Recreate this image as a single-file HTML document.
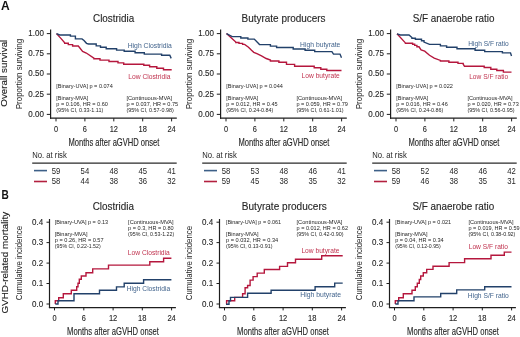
<!DOCTYPE html>
<html><head><meta charset="utf-8"><style>
html,body{margin:0;padding:0;background:#fff;overflow:hidden;}
svg{display:block;will-change:transform;}
text{font-family:"Liberation Sans", sans-serif;}
</style></head><body>
<svg width="520" height="337" viewBox="0 0 520 337">
<rect width="520" height="337" fill="#fff"/>
<text x="1.0" y="9.8" font-size="12.2" fill="#111" text-anchor="start" font-weight="bold" textLength="8.7" lengthAdjust="spacingAndGlyphs">A</text>
<text x="1.5" y="198.8" font-size="12.2" fill="#111" text-anchor="start" font-weight="bold" textLength="7.3" lengthAdjust="spacingAndGlyphs">B</text>
<text transform="translate(7.4,73.2) rotate(-90)" x="0" y="0" font-size="9.8" fill="#222" text-anchor="middle" stroke="#222" stroke-width="0.12" textLength="67.0" lengthAdjust="spacingAndGlyphs">Overall survival</text>
<text transform="translate(22.2,74.0) rotate(-90)" x="0" y="0" font-size="9.4" fill="#262626" text-anchor="middle" textLength="70.5" lengthAdjust="spacingAndGlyphs">Proportion surviving</text>
<text transform="translate(7.6,262.7) rotate(-90)" x="0" y="0" font-size="9.8" fill="#222" text-anchor="middle" stroke="#222" stroke-width="0.12" textLength="101.7" lengthAdjust="spacingAndGlyphs">GVHD-related mortality</text>
<text transform="translate(22.3,263.1) rotate(-90)" x="0" y="0" font-size="9.0" fill="#262626" text-anchor="middle" textLength="74.2" lengthAdjust="spacingAndGlyphs">Cumulative incidence</text>
<text x="113.6" y="21.5" font-size="10.6" fill="#262626" text-anchor="middle" textLength="41.2" lengthAdjust="spacingAndGlyphs" stroke="#262626" stroke-width="0.12">Clostridia</text>
<line x1="50.6" y1="29.4" x2="50.6" y2="118.7" stroke="#1e1e1e" stroke-width="1.2"/>
<line x1="50.0" y1="118.2" x2="176.8" y2="118.2" stroke="#1e1e1e" stroke-width="1.2"/>
<line x1="46.8" y1="33.6" x2="50.6" y2="33.6" stroke="#1e1e1e" stroke-width="1.0"/>
<text x="43.9" y="35.9" font-size="8.6" fill="#262626" text-anchor="end" textLength="15.6" lengthAdjust="spacingAndGlyphs" stroke="#262626" stroke-width="0.12">1.00</text>
<line x1="46.8" y1="53.8" x2="50.6" y2="53.8" stroke="#1e1e1e" stroke-width="1.0"/>
<text x="43.9" y="56.1" font-size="8.6" fill="#262626" text-anchor="end" textLength="15.6" lengthAdjust="spacingAndGlyphs" stroke="#262626" stroke-width="0.12">0.75</text>
<line x1="46.8" y1="74.0" x2="50.6" y2="74.0" stroke="#1e1e1e" stroke-width="1.0"/>
<text x="43.9" y="76.3" font-size="8.6" fill="#262626" text-anchor="end" textLength="15.6" lengthAdjust="spacingAndGlyphs" stroke="#262626" stroke-width="0.12">0.50</text>
<line x1="46.8" y1="94.2" x2="50.6" y2="94.2" stroke="#1e1e1e" stroke-width="1.0"/>
<text x="43.9" y="96.5" font-size="8.6" fill="#262626" text-anchor="end" textLength="15.6" lengthAdjust="spacingAndGlyphs" stroke="#262626" stroke-width="0.12">0.25</text>
<line x1="46.8" y1="114.4" x2="50.6" y2="114.4" stroke="#1e1e1e" stroke-width="1.0"/>
<text x="43.9" y="116.7" font-size="8.6" fill="#262626" text-anchor="end" textLength="15.6" lengthAdjust="spacingAndGlyphs" stroke="#262626" stroke-width="0.12">0.00</text>
<line x1="56.0" y1="118.2" x2="56.0" y2="121.4" stroke="#1e1e1e" stroke-width="1.0"/>
<text x="56.0" y="131.7" font-size="9.0" fill="#262626" text-anchor="middle" textLength="4.1" lengthAdjust="spacingAndGlyphs" stroke="#262626" stroke-width="0.12">0</text>
<line x1="84.9" y1="118.2" x2="84.9" y2="121.4" stroke="#1e1e1e" stroke-width="1.0"/>
<text x="84.9" y="131.7" font-size="9.0" fill="#262626" text-anchor="middle" textLength="4.1" lengthAdjust="spacingAndGlyphs" stroke="#262626" stroke-width="0.12">6</text>
<line x1="113.8" y1="118.2" x2="113.8" y2="121.4" stroke="#1e1e1e" stroke-width="1.0"/>
<text x="113.8" y="131.7" font-size="9.0" fill="#262626" text-anchor="middle" textLength="8.3" lengthAdjust="spacingAndGlyphs" stroke="#262626" stroke-width="0.12">12</text>
<line x1="142.7" y1="118.2" x2="142.7" y2="121.4" stroke="#1e1e1e" stroke-width="1.0"/>
<text x="142.7" y="131.7" font-size="9.0" fill="#262626" text-anchor="middle" textLength="8.3" lengthAdjust="spacingAndGlyphs" stroke="#262626" stroke-width="0.12">18</text>
<line x1="171.6" y1="118.2" x2="171.6" y2="121.4" stroke="#1e1e1e" stroke-width="1.0"/>
<text x="171.6" y="131.7" font-size="9.0" fill="#262626" text-anchor="middle" textLength="8.3" lengthAdjust="spacingAndGlyphs" stroke="#262626" stroke-width="0.12">24</text>
<text x="68.4" y="145.5" font-size="10.2" fill="#262626" text-anchor="start" textLength="91.0" lengthAdjust="spacingAndGlyphs" stroke="#262626" stroke-width="0.12">Months after aGVHD onset</text>
<path d="M56.5,33.6 L61.1,38.6 L64.7,42.8 V43.2 H68.3 V44.6 H72.6 V46 H78.3 L82.6,51.4 L86.3,53 L93.9,58.2 V58.7 H100 V60.1 H109 V61.5 H118 V62.9 H123.7 V64.2 H143.8 V65.3 H149.6 V66.8 H156.8 V68.2 H163.5 V69.7 H171.7" fill="none" stroke="#b5173d" stroke-width="1.4" stroke-linejoin="miter" stroke-linecap="butt"/>
<path d="M56.5,33.6 L59.7,35 H70.4 V36.1 H75.4 V38.9 H82 L84,40.5 L86.5,43.3 L88.5,44 H96.2 V45.9 H100.5 V47.3 H106.2 V48.7 H116.6 V50.1 H124.2 V51.3 H135.1 V52.7 H144.3 V54.1 H161.6 V55.3 H169.8 L171.2,58.4" fill="none" stroke="#22416a" stroke-width="1.4" stroke-linejoin="miter" stroke-linecap="butt"/>
<text x="127.7" y="47.6" font-size="7.0" fill="#41638c" text-anchor="start" textLength="44.2" lengthAdjust="spacingAndGlyphs">High Clostridia</text>
<text x="128.2" y="79.2" font-size="7.0" fill="#c0334f" text-anchor="start" textLength="42.2" lengthAdjust="spacingAndGlyphs">Low Clostridia</text>
<text x="56.3" y="88.1" font-size="5.9" fill="#262626" text-anchor="start" textLength="56.5" lengthAdjust="spacingAndGlyphs">[Binary-UVA] p = 0.074</text>
<text x="56.3" y="99.6" font-size="5.9" fill="#262626" text-anchor="start" textLength="32.0" lengthAdjust="spacingAndGlyphs">[Binary-MVA]</text>
<text x="56.3" y="106.0" font-size="5.9" fill="#262626" text-anchor="start" textLength="51.6" lengthAdjust="spacingAndGlyphs">p = 0.106, HR = 0.60</text>
<text x="56.3" y="112.3" font-size="5.9" fill="#262626" text-anchor="start" textLength="47.0" lengthAdjust="spacingAndGlyphs">(95% CI, 0.33-1.11)</text>
<text x="126.4" y="99.6" font-size="5.9" fill="#262626" text-anchor="start" textLength="45.8" lengthAdjust="spacingAndGlyphs">[Continuous-MVA]</text>
<text x="126.4" y="106.0" font-size="5.9" fill="#262626" text-anchor="start" textLength="51.8" lengthAdjust="spacingAndGlyphs">p = 0.037, HR = 0.75</text>
<text x="126.4" y="112.3" font-size="5.9" fill="#262626" text-anchor="start" textLength="47.4" lengthAdjust="spacingAndGlyphs">(95% CI, 0.57-0.98)</text>
<text x="32.2" y="157.8" font-size="8.4" fill="#262626" text-anchor="start" textLength="34.6" lengthAdjust="spacingAndGlyphs">No. at risk</text>
<line x1="32.2" y1="163.1" x2="176.7" y2="163.1" stroke="#2a2a2a" stroke-width="1.2"/>
<line x1="34.0" y1="170.6" x2="47.0" y2="170.6" stroke="#3d6088" stroke-width="1.6"/>
<line x1="34.0" y1="181.5" x2="47.0" y2="181.5" stroke="#b3203f" stroke-width="1.6"/>
<text x="56.0" y="173.6" font-size="9.2" fill="#262626" text-anchor="middle" textLength="8.6" lengthAdjust="spacingAndGlyphs">59</text>
<text x="56.0" y="184.2" font-size="9.2" fill="#262626" text-anchor="middle" textLength="8.6" lengthAdjust="spacingAndGlyphs">58</text>
<text x="84.9" y="173.6" font-size="9.2" fill="#262626" text-anchor="middle" textLength="8.6" lengthAdjust="spacingAndGlyphs">54</text>
<text x="84.9" y="184.2" font-size="9.2" fill="#262626" text-anchor="middle" textLength="8.6" lengthAdjust="spacingAndGlyphs">44</text>
<text x="113.8" y="173.6" font-size="9.2" fill="#262626" text-anchor="middle" textLength="8.6" lengthAdjust="spacingAndGlyphs">48</text>
<text x="113.8" y="184.2" font-size="9.2" fill="#262626" text-anchor="middle" textLength="8.6" lengthAdjust="spacingAndGlyphs">38</text>
<text x="142.7" y="173.6" font-size="9.2" fill="#262626" text-anchor="middle" textLength="8.6" lengthAdjust="spacingAndGlyphs">45</text>
<text x="142.7" y="184.2" font-size="9.2" fill="#262626" text-anchor="middle" textLength="8.6" lengthAdjust="spacingAndGlyphs">36</text>
<text x="171.6" y="173.6" font-size="9.2" fill="#262626" text-anchor="middle" textLength="8.6" lengthAdjust="spacingAndGlyphs">41</text>
<text x="171.6" y="184.2" font-size="9.2" fill="#262626" text-anchor="middle" textLength="8.6" lengthAdjust="spacingAndGlyphs">32</text>
<text x="113.3" y="210.2" font-size="10.6" fill="#262626" text-anchor="middle" textLength="41.2" lengthAdjust="spacingAndGlyphs" stroke="#262626" stroke-width="0.12">Clostridia</text>
<line x1="49.5" y1="219.0" x2="49.5" y2="308.1" stroke="#1e1e1e" stroke-width="1.2"/>
<line x1="48.9" y1="307.6" x2="175.9" y2="307.6" stroke="#1e1e1e" stroke-width="1.2"/>
<line x1="46.5" y1="222.2" x2="49.5" y2="222.2" stroke="#1e1e1e" stroke-width="1.0"/>
<text x="43.2" y="225.0" font-size="8.8" fill="#262626" text-anchor="end" textLength="11.1" lengthAdjust="spacingAndGlyphs" stroke="#262626" stroke-width="0.12">0.4</text>
<line x1="46.5" y1="242.6" x2="49.5" y2="242.6" stroke="#1e1e1e" stroke-width="1.0"/>
<text x="43.2" y="245.4" font-size="8.8" fill="#262626" text-anchor="end" textLength="11.1" lengthAdjust="spacingAndGlyphs" stroke="#262626" stroke-width="0.12">0.3</text>
<line x1="46.5" y1="263.1" x2="49.5" y2="263.1" stroke="#1e1e1e" stroke-width="1.0"/>
<text x="43.2" y="265.9" font-size="8.8" fill="#262626" text-anchor="end" textLength="11.1" lengthAdjust="spacingAndGlyphs" stroke="#262626" stroke-width="0.12">0.2</text>
<line x1="46.5" y1="283.5" x2="49.5" y2="283.5" stroke="#1e1e1e" stroke-width="1.0"/>
<text x="43.2" y="286.3" font-size="8.8" fill="#262626" text-anchor="end" textLength="11.1" lengthAdjust="spacingAndGlyphs" stroke="#262626" stroke-width="0.12">0.1</text>
<line x1="46.5" y1="304.0" x2="49.5" y2="304.0" stroke="#1e1e1e" stroke-width="1.0"/>
<text x="43.2" y="306.8" font-size="8.8" fill="#262626" text-anchor="end" textLength="11.1" lengthAdjust="spacingAndGlyphs" stroke="#262626" stroke-width="0.12">0.0</text>
<line x1="54.5" y1="307.6" x2="54.5" y2="310.4" stroke="#1e1e1e" stroke-width="1.0"/>
<text x="54.5" y="320.9" font-size="9.0" fill="#262626" text-anchor="middle" textLength="4.1" lengthAdjust="spacingAndGlyphs" stroke="#262626" stroke-width="0.12">0</text>
<line x1="83.8" y1="307.6" x2="83.8" y2="310.4" stroke="#1e1e1e" stroke-width="1.0"/>
<text x="83.8" y="320.9" font-size="9.0" fill="#262626" text-anchor="middle" textLength="4.1" lengthAdjust="spacingAndGlyphs" stroke="#262626" stroke-width="0.12">6</text>
<line x1="113.1" y1="307.6" x2="113.1" y2="310.4" stroke="#1e1e1e" stroke-width="1.0"/>
<text x="113.1" y="320.9" font-size="9.0" fill="#262626" text-anchor="middle" textLength="8.4" lengthAdjust="spacingAndGlyphs" stroke="#262626" stroke-width="0.12">12</text>
<line x1="142.3" y1="307.6" x2="142.3" y2="310.4" stroke="#1e1e1e" stroke-width="1.0"/>
<text x="142.3" y="320.9" font-size="9.0" fill="#262626" text-anchor="middle" textLength="8.4" lengthAdjust="spacingAndGlyphs" stroke="#262626" stroke-width="0.12">18</text>
<line x1="171.6" y1="307.6" x2="171.6" y2="310.4" stroke="#1e1e1e" stroke-width="1.0"/>
<text x="171.6" y="320.9" font-size="9.0" fill="#262626" text-anchor="middle" textLength="8.4" lengthAdjust="spacingAndGlyphs" stroke="#262626" stroke-width="0.12">24</text>
<text x="67.0" y="334.6" font-size="10.2" fill="#262626" text-anchor="start" textLength="91.9" lengthAdjust="spacingAndGlyphs" stroke="#262626" stroke-width="0.12">Months after aGVHD onset</text>
<path d="M55.3,304 V300.7 H58.7 V297.7 H63.3 V293.7 H71.3 V290.3 H76.7 V286.7 H78 V283.3 H79.3 V279.3 H81.3 V276 H86 V272.8 H92.7 V268.9 H108.5 V265.1 H149.8 V261.7 H163.6 V258.2 H171.4" fill="none" stroke="#b5173d" stroke-width="1.4" stroke-linejoin="miter" stroke-linecap="butt"/>
<path d="M55.3,304 H58 V300.7 H74 V293.7 H99.5 V290.3 H116.5 V286.9 H124.2 V283.3 H143.6 V279.8 H171.4" fill="none" stroke="#22416a" stroke-width="1.4" stroke-linejoin="miter" stroke-linecap="butt"/>
<text x="127.8" y="255.0" font-size="7.0" fill="#c0334f" text-anchor="start" textLength="42.0" lengthAdjust="spacingAndGlyphs">Low Clostridia</text>
<text x="126.7" y="291.3" font-size="7.0" fill="#41638c" text-anchor="start" textLength="43.5" lengthAdjust="spacingAndGlyphs">High Clostridia</text>
<text x="54.8" y="224.0" font-size="5.9" fill="#262626" text-anchor="start" textLength="53.4" lengthAdjust="spacingAndGlyphs">[Binary-UVA] p = 0.13</text>
<text x="54.8" y="235.8" font-size="5.9" fill="#262626" text-anchor="start" textLength="32.7" lengthAdjust="spacingAndGlyphs">[Binary-MVA]</text>
<text x="54.8" y="242.1" font-size="5.9" fill="#262626" text-anchor="start" textLength="48.8" lengthAdjust="spacingAndGlyphs">p = 0.26, HR = 0.57</text>
<text x="54.8" y="247.9" font-size="5.9" fill="#262626" text-anchor="start" textLength="45.9" lengthAdjust="spacingAndGlyphs">(95% CI, 0.22-1.52)</text>
<text x="128.1" y="223.7" font-size="5.9" fill="#262626" text-anchor="start" textLength="45.5" lengthAdjust="spacingAndGlyphs">[Continuous-MVA]</text>
<text x="128.1" y="230.0" font-size="5.9" fill="#262626" text-anchor="start" textLength="45.5" lengthAdjust="spacingAndGlyphs">p = 0.3, HR = 0.80</text>
<text x="128.1" y="236.3" font-size="5.9" fill="#262626" text-anchor="start" textLength="46.1" lengthAdjust="spacingAndGlyphs">(95% CI, 0.53-1.22)</text>
<text x="283.6" y="21.5" font-size="10.6" fill="#262626" text-anchor="middle" textLength="84.0" lengthAdjust="spacingAndGlyphs" stroke="#262626" stroke-width="0.12">Butyrate producers</text>
<line x1="220.6" y1="29.4" x2="220.6" y2="118.7" stroke="#1e1e1e" stroke-width="1.2"/>
<line x1="220.0" y1="118.2" x2="346.8" y2="118.2" stroke="#1e1e1e" stroke-width="1.2"/>
<line x1="216.8" y1="33.6" x2="220.6" y2="33.6" stroke="#1e1e1e" stroke-width="1.0"/>
<text x="213.9" y="35.9" font-size="8.6" fill="#262626" text-anchor="end" textLength="15.6" lengthAdjust="spacingAndGlyphs" stroke="#262626" stroke-width="0.12">1.00</text>
<line x1="216.8" y1="53.8" x2="220.6" y2="53.8" stroke="#1e1e1e" stroke-width="1.0"/>
<text x="213.9" y="56.1" font-size="8.6" fill="#262626" text-anchor="end" textLength="15.6" lengthAdjust="spacingAndGlyphs" stroke="#262626" stroke-width="0.12">0.75</text>
<line x1="216.8" y1="74.0" x2="220.6" y2="74.0" stroke="#1e1e1e" stroke-width="1.0"/>
<text x="213.9" y="76.3" font-size="8.6" fill="#262626" text-anchor="end" textLength="15.6" lengthAdjust="spacingAndGlyphs" stroke="#262626" stroke-width="0.12">0.50</text>
<line x1="216.8" y1="94.2" x2="220.6" y2="94.2" stroke="#1e1e1e" stroke-width="1.0"/>
<text x="213.9" y="96.5" font-size="8.6" fill="#262626" text-anchor="end" textLength="15.6" lengthAdjust="spacingAndGlyphs" stroke="#262626" stroke-width="0.12">0.25</text>
<line x1="216.8" y1="114.4" x2="220.6" y2="114.4" stroke="#1e1e1e" stroke-width="1.0"/>
<text x="213.9" y="116.7" font-size="8.6" fill="#262626" text-anchor="end" textLength="15.6" lengthAdjust="spacingAndGlyphs" stroke="#262626" stroke-width="0.12">0.00</text>
<line x1="226.0" y1="118.2" x2="226.0" y2="121.4" stroke="#1e1e1e" stroke-width="1.0"/>
<text x="226.0" y="131.7" font-size="9.0" fill="#262626" text-anchor="middle" textLength="4.1" lengthAdjust="spacingAndGlyphs" stroke="#262626" stroke-width="0.12">0</text>
<line x1="254.9" y1="118.2" x2="254.9" y2="121.4" stroke="#1e1e1e" stroke-width="1.0"/>
<text x="254.9" y="131.7" font-size="9.0" fill="#262626" text-anchor="middle" textLength="4.1" lengthAdjust="spacingAndGlyphs" stroke="#262626" stroke-width="0.12">6</text>
<line x1="283.8" y1="118.2" x2="283.8" y2="121.4" stroke="#1e1e1e" stroke-width="1.0"/>
<text x="283.8" y="131.7" font-size="9.0" fill="#262626" text-anchor="middle" textLength="8.3" lengthAdjust="spacingAndGlyphs" stroke="#262626" stroke-width="0.12">12</text>
<line x1="312.7" y1="118.2" x2="312.7" y2="121.4" stroke="#1e1e1e" stroke-width="1.0"/>
<text x="312.7" y="131.7" font-size="9.0" fill="#262626" text-anchor="middle" textLength="8.3" lengthAdjust="spacingAndGlyphs" stroke="#262626" stroke-width="0.12">18</text>
<line x1="341.6" y1="118.2" x2="341.6" y2="121.4" stroke="#1e1e1e" stroke-width="1.0"/>
<text x="341.6" y="131.7" font-size="9.0" fill="#262626" text-anchor="middle" textLength="8.3" lengthAdjust="spacingAndGlyphs" stroke="#262626" stroke-width="0.12">24</text>
<text x="238.4" y="145.5" font-size="10.2" fill="#262626" text-anchor="start" textLength="91.0" lengthAdjust="spacingAndGlyphs" stroke="#262626" stroke-width="0.12">Months after aGVHD onset</text>
<text transform="translate(192.2,74.0) rotate(-90)" x="0" y="0" font-size="9.4" fill="#262626" text-anchor="middle" textLength="70.5" lengthAdjust="spacingAndGlyphs">Proportion surviving</text>
<path d="M226.5,33.6 L235.8,42.1 V42.5 H239 V43.4 H242.6 V44.4 H244.6 L248.5,47.2 L251.5,50.3 L253.8,52.3 L256.9,53.6 L261.5,55.8 L266.2,58.5 L270.4,60.1 V61 H278.9 V62.3 H286.5 V64.4 H294.6 V66.3 H314.2 V67.8 H320.8 V69.3 H326.8 V70.5 H341.5" fill="none" stroke="#b5173d" stroke-width="1.4" stroke-linejoin="miter" stroke-linecap="butt"/>
<path d="M226.5,33.6 L232.2,36.6 H240.8 V38 H247.9 V39.1 H254.3 L259.5,44.6 H270.4 V46.1 H276.6 V47.5 H293.2 V49 H305.1 V50.3 H314.7 V51.6 H331.9 L333.5,54.1 H340 L341.5,57.7" fill="none" stroke="#22416a" stroke-width="1.4" stroke-linejoin="miter" stroke-linecap="butt"/>
<text x="300.1" y="46.9" font-size="7.0" fill="#41638c" text-anchor="start" textLength="40.3" lengthAdjust="spacingAndGlyphs">High butyrate</text>
<text x="301.6" y="78.0" font-size="7.0" fill="#c0334f" text-anchor="start" textLength="38.1" lengthAdjust="spacingAndGlyphs">Low butyrate</text>
<text x="226.3" y="88.1" font-size="5.9" fill="#262626" text-anchor="start" textLength="56.6" lengthAdjust="spacingAndGlyphs">[Binary-UVA] p = 0.044</text>
<text x="226.3" y="99.6" font-size="5.9" fill="#262626" text-anchor="start" textLength="32.0" lengthAdjust="spacingAndGlyphs">[Binary-MVA]</text>
<text x="226.3" y="106.0" font-size="5.9" fill="#262626" text-anchor="start" textLength="51.3" lengthAdjust="spacingAndGlyphs">p = 0.012, HR = 0.45</text>
<text x="226.3" y="112.3" font-size="5.9" fill="#262626" text-anchor="start" textLength="47.1" lengthAdjust="spacingAndGlyphs">(95% CI, 0.24-0.84)</text>
<text x="296.4" y="99.6" font-size="5.9" fill="#262626" text-anchor="start" textLength="45.7" lengthAdjust="spacingAndGlyphs">[Continuous-MVA]</text>
<text x="296.4" y="106.0" font-size="5.9" fill="#262626" text-anchor="start" textLength="51.5" lengthAdjust="spacingAndGlyphs">p = 0.059, HR = 0.79</text>
<text x="296.4" y="112.3" font-size="5.9" fill="#262626" text-anchor="start" textLength="47.2" lengthAdjust="spacingAndGlyphs">(95% CI, 0.61-1.01)</text>
<text x="202.2" y="157.8" font-size="8.4" fill="#262626" text-anchor="start" textLength="34.6" lengthAdjust="spacingAndGlyphs">No. at risk</text>
<line x1="202.2" y1="163.1" x2="346.7" y2="163.1" stroke="#2a2a2a" stroke-width="1.2"/>
<line x1="204.0" y1="170.6" x2="217.0" y2="170.6" stroke="#3d6088" stroke-width="1.6"/>
<line x1="204.0" y1="181.5" x2="217.0" y2="181.5" stroke="#b3203f" stroke-width="1.6"/>
<text x="226.0" y="173.6" font-size="9.2" fill="#262626" text-anchor="middle" textLength="8.6" lengthAdjust="spacingAndGlyphs">58</text>
<text x="226.0" y="184.2" font-size="9.2" fill="#262626" text-anchor="middle" textLength="8.6" lengthAdjust="spacingAndGlyphs">59</text>
<text x="254.9" y="173.6" font-size="9.2" fill="#262626" text-anchor="middle" textLength="8.6" lengthAdjust="spacingAndGlyphs">53</text>
<text x="254.9" y="184.2" font-size="9.2" fill="#262626" text-anchor="middle" textLength="8.6" lengthAdjust="spacingAndGlyphs">45</text>
<text x="283.8" y="173.6" font-size="9.2" fill="#262626" text-anchor="middle" textLength="8.6" lengthAdjust="spacingAndGlyphs">48</text>
<text x="283.8" y="184.2" font-size="9.2" fill="#262626" text-anchor="middle" textLength="8.6" lengthAdjust="spacingAndGlyphs">38</text>
<text x="312.7" y="173.6" font-size="9.2" fill="#262626" text-anchor="middle" textLength="8.6" lengthAdjust="spacingAndGlyphs">46</text>
<text x="312.7" y="184.2" font-size="9.2" fill="#262626" text-anchor="middle" textLength="8.6" lengthAdjust="spacingAndGlyphs">35</text>
<text x="341.6" y="173.6" font-size="9.2" fill="#262626" text-anchor="middle" textLength="8.6" lengthAdjust="spacingAndGlyphs">41</text>
<text x="341.6" y="184.2" font-size="9.2" fill="#262626" text-anchor="middle" textLength="8.6" lengthAdjust="spacingAndGlyphs">32</text>
<text x="284.3" y="210.2" font-size="10.6" fill="#262626" text-anchor="middle" textLength="85.0" lengthAdjust="spacingAndGlyphs" stroke="#262626" stroke-width="0.12">Butyrate producers</text>
<line x1="219.5" y1="219.0" x2="219.5" y2="308.1" stroke="#1e1e1e" stroke-width="1.2"/>
<line x1="218.9" y1="307.6" x2="345.9" y2="307.6" stroke="#1e1e1e" stroke-width="1.2"/>
<line x1="216.5" y1="222.2" x2="219.5" y2="222.2" stroke="#1e1e1e" stroke-width="1.0"/>
<text x="213.2" y="225.0" font-size="8.8" fill="#262626" text-anchor="end" textLength="11.1" lengthAdjust="spacingAndGlyphs" stroke="#262626" stroke-width="0.12">0.4</text>
<line x1="216.5" y1="242.6" x2="219.5" y2="242.6" stroke="#1e1e1e" stroke-width="1.0"/>
<text x="213.2" y="245.4" font-size="8.8" fill="#262626" text-anchor="end" textLength="11.1" lengthAdjust="spacingAndGlyphs" stroke="#262626" stroke-width="0.12">0.3</text>
<line x1="216.5" y1="263.1" x2="219.5" y2="263.1" stroke="#1e1e1e" stroke-width="1.0"/>
<text x="213.2" y="265.9" font-size="8.8" fill="#262626" text-anchor="end" textLength="11.1" lengthAdjust="spacingAndGlyphs" stroke="#262626" stroke-width="0.12">0.2</text>
<line x1="216.5" y1="283.5" x2="219.5" y2="283.5" stroke="#1e1e1e" stroke-width="1.0"/>
<text x="213.2" y="286.3" font-size="8.8" fill="#262626" text-anchor="end" textLength="11.1" lengthAdjust="spacingAndGlyphs" stroke="#262626" stroke-width="0.12">0.1</text>
<line x1="216.5" y1="304.0" x2="219.5" y2="304.0" stroke="#1e1e1e" stroke-width="1.0"/>
<text x="213.2" y="306.8" font-size="8.8" fill="#262626" text-anchor="end" textLength="11.1" lengthAdjust="spacingAndGlyphs" stroke="#262626" stroke-width="0.12">0.0</text>
<line x1="224.5" y1="307.6" x2="224.5" y2="310.4" stroke="#1e1e1e" stroke-width="1.0"/>
<text x="224.5" y="320.9" font-size="9.0" fill="#262626" text-anchor="middle" textLength="4.1" lengthAdjust="spacingAndGlyphs" stroke="#262626" stroke-width="0.12">0</text>
<line x1="253.8" y1="307.6" x2="253.8" y2="310.4" stroke="#1e1e1e" stroke-width="1.0"/>
<text x="253.8" y="320.9" font-size="9.0" fill="#262626" text-anchor="middle" textLength="4.1" lengthAdjust="spacingAndGlyphs" stroke="#262626" stroke-width="0.12">6</text>
<line x1="283.1" y1="307.6" x2="283.1" y2="310.4" stroke="#1e1e1e" stroke-width="1.0"/>
<text x="283.1" y="320.9" font-size="9.0" fill="#262626" text-anchor="middle" textLength="8.4" lengthAdjust="spacingAndGlyphs" stroke="#262626" stroke-width="0.12">12</text>
<line x1="312.3" y1="307.6" x2="312.3" y2="310.4" stroke="#1e1e1e" stroke-width="1.0"/>
<text x="312.3" y="320.9" font-size="9.0" fill="#262626" text-anchor="middle" textLength="8.4" lengthAdjust="spacingAndGlyphs" stroke="#262626" stroke-width="0.12">18</text>
<line x1="341.6" y1="307.6" x2="341.6" y2="310.4" stroke="#1e1e1e" stroke-width="1.0"/>
<text x="341.6" y="320.9" font-size="9.0" fill="#262626" text-anchor="middle" textLength="8.4" lengthAdjust="spacingAndGlyphs" stroke="#262626" stroke-width="0.12">24</text>
<text x="237.0" y="334.6" font-size="10.2" fill="#262626" text-anchor="start" textLength="91.9" lengthAdjust="spacingAndGlyphs" stroke="#262626" stroke-width="0.12">Months after aGVHD onset</text>
<text transform="translate(192.3,263.1) rotate(-90)" x="0" y="0" font-size="9.0" fill="#262626" text-anchor="middle" textLength="74.2" lengthAdjust="spacingAndGlyphs">Cumulative incidence</text>
<path d="M226,304.2 H226.6 V300.7 H234.7 V297.4 H242.6 V293.7 H245.1 V287.7 H247.6 V285.5 H250.1 V280.1 H253.1 V276.6 H257.2 V273.1 H264.3 V269.5 H279.6 V266.4 H287.5 V262.8 H295.5 V259.3 H321.7 V255.7 H342.7" fill="none" stroke="#b5173d" stroke-width="1.4" stroke-linejoin="miter" stroke-linecap="butt"/>
<path d="M226,304.2 H229 V300.7 H230.5 V297.4 H247.6 V293.3 H271.1 V290.2 H315.1 V286.7 H334.7 V283.1 H342.7" fill="none" stroke="#22416a" stroke-width="1.4" stroke-linejoin="miter" stroke-linecap="butt"/>
<text x="301.4" y="252.5" font-size="7.0" fill="#c0334f" text-anchor="start" textLength="38.1" lengthAdjust="spacingAndGlyphs">Low butyrate</text>
<text x="300.3" y="297.4" font-size="7.0" fill="#41638c" text-anchor="start" textLength="40.7" lengthAdjust="spacingAndGlyphs">High butyrate</text>
<text x="226.0" y="224.0" font-size="5.9" fill="#262626" text-anchor="start" textLength="55.1" lengthAdjust="spacingAndGlyphs">[Binary-UVA] p = 0.061</text>
<text x="226.0" y="235.8" font-size="5.9" fill="#262626" text-anchor="start" textLength="32.6" lengthAdjust="spacingAndGlyphs">[Binary-MVA]</text>
<text x="226.0" y="242.1" font-size="5.9" fill="#262626" text-anchor="start" textLength="52.2" lengthAdjust="spacingAndGlyphs">p = 0.032, HR = 0.34</text>
<text x="226.0" y="247.9" font-size="5.9" fill="#262626" text-anchor="start" textLength="46.5" lengthAdjust="spacingAndGlyphs">(95% CI, 0.13-0.91)</text>
<text x="296.5" y="223.7" font-size="5.9" fill="#262626" text-anchor="start" textLength="45.8" lengthAdjust="spacingAndGlyphs">[Continuous-MVA]</text>
<text x="296.5" y="230.0" font-size="5.9" fill="#262626" text-anchor="start" textLength="51.5" lengthAdjust="spacingAndGlyphs">p = 0.012, HR = 0.62</text>
<text x="296.5" y="236.3" font-size="5.9" fill="#262626" text-anchor="start" textLength="47.0" lengthAdjust="spacingAndGlyphs">(95% CI, 0.42-0.90)</text>
<text x="453.6" y="21.5" font-size="10.6" fill="#262626" text-anchor="middle" textLength="81.8" lengthAdjust="spacingAndGlyphs" stroke="#262626" stroke-width="0.12">S/F anaerobe ratio</text>
<line x1="390.6" y1="29.4" x2="390.6" y2="118.7" stroke="#1e1e1e" stroke-width="1.2"/>
<line x1="390.0" y1="118.2" x2="516.8" y2="118.2" stroke="#1e1e1e" stroke-width="1.2"/>
<line x1="386.8" y1="33.6" x2="390.6" y2="33.6" stroke="#1e1e1e" stroke-width="1.0"/>
<text x="383.9" y="35.9" font-size="8.6" fill="#262626" text-anchor="end" textLength="15.6" lengthAdjust="spacingAndGlyphs" stroke="#262626" stroke-width="0.12">1.00</text>
<line x1="386.8" y1="53.8" x2="390.6" y2="53.8" stroke="#1e1e1e" stroke-width="1.0"/>
<text x="383.9" y="56.1" font-size="8.6" fill="#262626" text-anchor="end" textLength="15.6" lengthAdjust="spacingAndGlyphs" stroke="#262626" stroke-width="0.12">0.75</text>
<line x1="386.8" y1="74.0" x2="390.6" y2="74.0" stroke="#1e1e1e" stroke-width="1.0"/>
<text x="383.9" y="76.3" font-size="8.6" fill="#262626" text-anchor="end" textLength="15.6" lengthAdjust="spacingAndGlyphs" stroke="#262626" stroke-width="0.12">0.50</text>
<line x1="386.8" y1="94.2" x2="390.6" y2="94.2" stroke="#1e1e1e" stroke-width="1.0"/>
<text x="383.9" y="96.5" font-size="8.6" fill="#262626" text-anchor="end" textLength="15.6" lengthAdjust="spacingAndGlyphs" stroke="#262626" stroke-width="0.12">0.25</text>
<line x1="386.8" y1="114.4" x2="390.6" y2="114.4" stroke="#1e1e1e" stroke-width="1.0"/>
<text x="383.9" y="116.7" font-size="8.6" fill="#262626" text-anchor="end" textLength="15.6" lengthAdjust="spacingAndGlyphs" stroke="#262626" stroke-width="0.12">0.00</text>
<line x1="396.0" y1="118.2" x2="396.0" y2="121.4" stroke="#1e1e1e" stroke-width="1.0"/>
<text x="396.0" y="131.7" font-size="9.0" fill="#262626" text-anchor="middle" textLength="4.1" lengthAdjust="spacingAndGlyphs" stroke="#262626" stroke-width="0.12">0</text>
<line x1="424.9" y1="118.2" x2="424.9" y2="121.4" stroke="#1e1e1e" stroke-width="1.0"/>
<text x="424.9" y="131.7" font-size="9.0" fill="#262626" text-anchor="middle" textLength="4.1" lengthAdjust="spacingAndGlyphs" stroke="#262626" stroke-width="0.12">6</text>
<line x1="453.8" y1="118.2" x2="453.8" y2="121.4" stroke="#1e1e1e" stroke-width="1.0"/>
<text x="453.8" y="131.7" font-size="9.0" fill="#262626" text-anchor="middle" textLength="8.3" lengthAdjust="spacingAndGlyphs" stroke="#262626" stroke-width="0.12">12</text>
<line x1="482.7" y1="118.2" x2="482.7" y2="121.4" stroke="#1e1e1e" stroke-width="1.0"/>
<text x="482.7" y="131.7" font-size="9.0" fill="#262626" text-anchor="middle" textLength="8.3" lengthAdjust="spacingAndGlyphs" stroke="#262626" stroke-width="0.12">18</text>
<line x1="511.6" y1="118.2" x2="511.6" y2="121.4" stroke="#1e1e1e" stroke-width="1.0"/>
<text x="511.6" y="131.7" font-size="9.0" fill="#262626" text-anchor="middle" textLength="8.3" lengthAdjust="spacingAndGlyphs" stroke="#262626" stroke-width="0.12">24</text>
<text x="408.4" y="145.5" font-size="10.2" fill="#262626" text-anchor="start" textLength="91.0" lengthAdjust="spacingAndGlyphs" stroke="#262626" stroke-width="0.12">Months after aGVHD onset</text>
<text transform="translate(362.2,74.0) rotate(-90)" x="0" y="0" font-size="9.4" fill="#262626" text-anchor="middle" textLength="70.5" lengthAdjust="spacingAndGlyphs">Proportion surviving</text>
<path d="M397,33.8 L405.4,42.9 V43.2 H412.6 V44.3 H414.7 V45.4 H416.9 V46.8 H419 L421.1,50 L424.7,51.1 L429.5,55.3 L434.2,58.2 L440.4,60.4 V61 H448.9 V62.3 H458 V63.4 H463.2 V64.2 L464.5,66.3 H484.2 V67.5 H490.8 V69.3 H496.8 V70.5 H503.4 V72.1 H511.5" fill="none" stroke="#b5173d" stroke-width="1.4" stroke-linejoin="miter" stroke-linecap="butt"/>
<path d="M397,33.8 L400.4,35 H409 L411.9,37.5 V38.2 H415.4 V39.3 H421.5 V40.7 H424 V42.1 L429.5,44.4 H440.4 V45.9 H446.6 V47.3 H457 V48.7 H475.1 V50.3 H484.7 V51.6 H502.4 V52.9 H510.5 L511.5,56" fill="none" stroke="#22416a" stroke-width="1.4" stroke-linejoin="miter" stroke-linecap="butt"/>
<text x="468.2" y="46.1" font-size="7.0" fill="#41638c" text-anchor="start" textLength="40.5" lengthAdjust="spacingAndGlyphs">High S/F ratio</text>
<text x="469.2" y="79.2" font-size="7.0" fill="#c0334f" text-anchor="start" textLength="39.0" lengthAdjust="spacingAndGlyphs">Low S/F ratio</text>
<text x="396.3" y="88.1" font-size="5.9" fill="#262626" text-anchor="start" textLength="56.6" lengthAdjust="spacingAndGlyphs">[Binary-UVA] p = 0.022</text>
<text x="396.3" y="99.6" font-size="5.9" fill="#262626" text-anchor="start" textLength="32.0" lengthAdjust="spacingAndGlyphs">[Binary-MVA]</text>
<text x="396.3" y="106.0" font-size="5.9" fill="#262626" text-anchor="start" textLength="51.5" lengthAdjust="spacingAndGlyphs">p = 0.016, HR = 0.46</text>
<text x="396.3" y="112.3" font-size="5.9" fill="#262626" text-anchor="start" textLength="47.1" lengthAdjust="spacingAndGlyphs">(95% CI, 0.24-0.86)</text>
<text x="467.4" y="99.6" font-size="5.9" fill="#262626" text-anchor="start" textLength="45.2" lengthAdjust="spacingAndGlyphs">[Continuous-MVA]</text>
<text x="467.4" y="106.0" font-size="5.9" fill="#262626" text-anchor="start" textLength="51.4" lengthAdjust="spacingAndGlyphs">p = 0.020, HR = 0.73</text>
<text x="467.4" y="112.3" font-size="5.9" fill="#262626" text-anchor="start" textLength="47.2" lengthAdjust="spacingAndGlyphs">(95% CI, 0.56-0.95)</text>
<text x="372.2" y="157.8" font-size="8.4" fill="#262626" text-anchor="start" textLength="34.6" lengthAdjust="spacingAndGlyphs">No. at risk</text>
<line x1="372.2" y1="163.1" x2="516.7" y2="163.1" stroke="#2a2a2a" stroke-width="1.2"/>
<line x1="374.0" y1="170.6" x2="387.0" y2="170.6" stroke="#3d6088" stroke-width="1.6"/>
<line x1="374.0" y1="181.5" x2="387.0" y2="181.5" stroke="#b3203f" stroke-width="1.6"/>
<text x="396.0" y="173.6" font-size="9.2" fill="#262626" text-anchor="middle" textLength="8.6" lengthAdjust="spacingAndGlyphs">58</text>
<text x="396.0" y="184.2" font-size="9.2" fill="#262626" text-anchor="middle" textLength="8.6" lengthAdjust="spacingAndGlyphs">59</text>
<text x="424.9" y="173.6" font-size="9.2" fill="#262626" text-anchor="middle" textLength="8.6" lengthAdjust="spacingAndGlyphs">52</text>
<text x="424.9" y="184.2" font-size="9.2" fill="#262626" text-anchor="middle" textLength="8.6" lengthAdjust="spacingAndGlyphs">46</text>
<text x="453.8" y="173.6" font-size="9.2" fill="#262626" text-anchor="middle" textLength="8.6" lengthAdjust="spacingAndGlyphs">48</text>
<text x="453.8" y="184.2" font-size="9.2" fill="#262626" text-anchor="middle" textLength="8.6" lengthAdjust="spacingAndGlyphs">38</text>
<text x="482.7" y="173.6" font-size="9.2" fill="#262626" text-anchor="middle" textLength="8.6" lengthAdjust="spacingAndGlyphs">46</text>
<text x="482.7" y="184.2" font-size="9.2" fill="#262626" text-anchor="middle" textLength="8.6" lengthAdjust="spacingAndGlyphs">35</text>
<text x="511.6" y="173.6" font-size="9.2" fill="#262626" text-anchor="middle" textLength="8.6" lengthAdjust="spacingAndGlyphs">42</text>
<text x="511.6" y="184.2" font-size="9.2" fill="#262626" text-anchor="middle" textLength="8.6" lengthAdjust="spacingAndGlyphs">31</text>
<text x="453.3" y="210.2" font-size="10.6" fill="#262626" text-anchor="middle" textLength="81.8" lengthAdjust="spacingAndGlyphs" stroke="#262626" stroke-width="0.12">S/F anaerobe ratio</text>
<line x1="389.5" y1="219.0" x2="389.5" y2="308.1" stroke="#1e1e1e" stroke-width="1.2"/>
<line x1="388.9" y1="307.6" x2="515.9" y2="307.6" stroke="#1e1e1e" stroke-width="1.2"/>
<line x1="386.5" y1="222.2" x2="389.5" y2="222.2" stroke="#1e1e1e" stroke-width="1.0"/>
<text x="383.2" y="225.0" font-size="8.8" fill="#262626" text-anchor="end" textLength="11.1" lengthAdjust="spacingAndGlyphs" stroke="#262626" stroke-width="0.12">0.4</text>
<line x1="386.5" y1="242.6" x2="389.5" y2="242.6" stroke="#1e1e1e" stroke-width="1.0"/>
<text x="383.2" y="245.4" font-size="8.8" fill="#262626" text-anchor="end" textLength="11.1" lengthAdjust="spacingAndGlyphs" stroke="#262626" stroke-width="0.12">0.3</text>
<line x1="386.5" y1="263.1" x2="389.5" y2="263.1" stroke="#1e1e1e" stroke-width="1.0"/>
<text x="383.2" y="265.9" font-size="8.8" fill="#262626" text-anchor="end" textLength="11.1" lengthAdjust="spacingAndGlyphs" stroke="#262626" stroke-width="0.12">0.2</text>
<line x1="386.5" y1="283.5" x2="389.5" y2="283.5" stroke="#1e1e1e" stroke-width="1.0"/>
<text x="383.2" y="286.3" font-size="8.8" fill="#262626" text-anchor="end" textLength="11.1" lengthAdjust="spacingAndGlyphs" stroke="#262626" stroke-width="0.12">0.1</text>
<line x1="386.5" y1="304.0" x2="389.5" y2="304.0" stroke="#1e1e1e" stroke-width="1.0"/>
<text x="383.2" y="306.8" font-size="8.8" fill="#262626" text-anchor="end" textLength="11.1" lengthAdjust="spacingAndGlyphs" stroke="#262626" stroke-width="0.12">0.0</text>
<line x1="394.5" y1="307.6" x2="394.5" y2="310.4" stroke="#1e1e1e" stroke-width="1.0"/>
<text x="394.5" y="320.9" font-size="9.0" fill="#262626" text-anchor="middle" textLength="4.1" lengthAdjust="spacingAndGlyphs" stroke="#262626" stroke-width="0.12">0</text>
<line x1="423.8" y1="307.6" x2="423.8" y2="310.4" stroke="#1e1e1e" stroke-width="1.0"/>
<text x="423.8" y="320.9" font-size="9.0" fill="#262626" text-anchor="middle" textLength="4.1" lengthAdjust="spacingAndGlyphs" stroke="#262626" stroke-width="0.12">6</text>
<line x1="453.1" y1="307.6" x2="453.1" y2="310.4" stroke="#1e1e1e" stroke-width="1.0"/>
<text x="453.1" y="320.9" font-size="9.0" fill="#262626" text-anchor="middle" textLength="8.4" lengthAdjust="spacingAndGlyphs" stroke="#262626" stroke-width="0.12">12</text>
<line x1="482.3" y1="307.6" x2="482.3" y2="310.4" stroke="#1e1e1e" stroke-width="1.0"/>
<text x="482.3" y="320.9" font-size="9.0" fill="#262626" text-anchor="middle" textLength="8.4" lengthAdjust="spacingAndGlyphs" stroke="#262626" stroke-width="0.12">18</text>
<line x1="511.6" y1="307.6" x2="511.6" y2="310.4" stroke="#1e1e1e" stroke-width="1.0"/>
<text x="511.6" y="320.9" font-size="9.0" fill="#262626" text-anchor="middle" textLength="8.4" lengthAdjust="spacingAndGlyphs" stroke="#262626" stroke-width="0.12">24</text>
<text x="407.0" y="334.6" font-size="10.2" fill="#262626" text-anchor="start" textLength="91.9" lengthAdjust="spacingAndGlyphs" stroke="#262626" stroke-width="0.12">Months after aGVHD onset</text>
<text transform="translate(362.3,263.1) rotate(-90)" x="0" y="0" font-size="9.0" fill="#262626" text-anchor="middle" textLength="74.2" lengthAdjust="spacingAndGlyphs">Cumulative incidence</text>
<path d="M395.3,304 V300.7 H398.7 V297.7 H403.3 V293.7 H412 V290.3 H415.3 V286.7 H417.3 V283.3 H419.3 V279.5 H420.7 V276 H423.3 V272.7 H426.7 V269.4 H433 V266.2 H449.1 V262.6 H464.6 V258.7 H491 V255.2 H504.3 V252.1 H511.5" fill="none" stroke="#b5173d" stroke-width="1.4" stroke-linejoin="miter" stroke-linecap="butt"/>
<path d="M395.3,304 H398 V300.7 H414 V296.9 H440.7 V293.5 H456.7 V289.9 H484.7 V286.7 H511.5" fill="none" stroke="#22416a" stroke-width="1.4" stroke-linejoin="miter" stroke-linecap="butt"/>
<text x="468.7" y="248.9" font-size="7.0" fill="#c0334f" text-anchor="start" textLength="39.2" lengthAdjust="spacingAndGlyphs">Low S/F ratio</text>
<text x="467.8" y="297.9" font-size="7.0" fill="#41638c" text-anchor="start" textLength="41.0" lengthAdjust="spacingAndGlyphs">High S/F ratio</text>
<text x="395.2" y="224.0" font-size="5.9" fill="#262626" text-anchor="start" textLength="55.9" lengthAdjust="spacingAndGlyphs">[Binary-UVA] p = 0.021</text>
<text x="395.2" y="235.8" font-size="5.9" fill="#262626" text-anchor="start" textLength="32.3" lengthAdjust="spacingAndGlyphs">[Binary-MVA]</text>
<text x="395.2" y="242.1" font-size="5.9" fill="#262626" text-anchor="start" textLength="48.4" lengthAdjust="spacingAndGlyphs">p = 0.04, HR = 0.34</text>
<text x="395.2" y="247.9" font-size="5.9" fill="#262626" text-anchor="start" textLength="45.5" lengthAdjust="spacingAndGlyphs">(95% CI, 0.12-0.95)</text>
<text x="468.5" y="223.7" font-size="5.9" fill="#262626" text-anchor="start" textLength="45.0" lengthAdjust="spacingAndGlyphs">[Continuous-MVA]</text>
<text x="468.5" y="230.0" font-size="5.9" fill="#262626" text-anchor="start" textLength="51.0" lengthAdjust="spacingAndGlyphs">p = 0.019, HR = 0.59</text>
<text x="468.5" y="236.3" font-size="5.9" fill="#262626" text-anchor="start" textLength="46.9" lengthAdjust="spacingAndGlyphs">(95% CI, 0.38-0.92)</text>
</svg>
</body></html>
